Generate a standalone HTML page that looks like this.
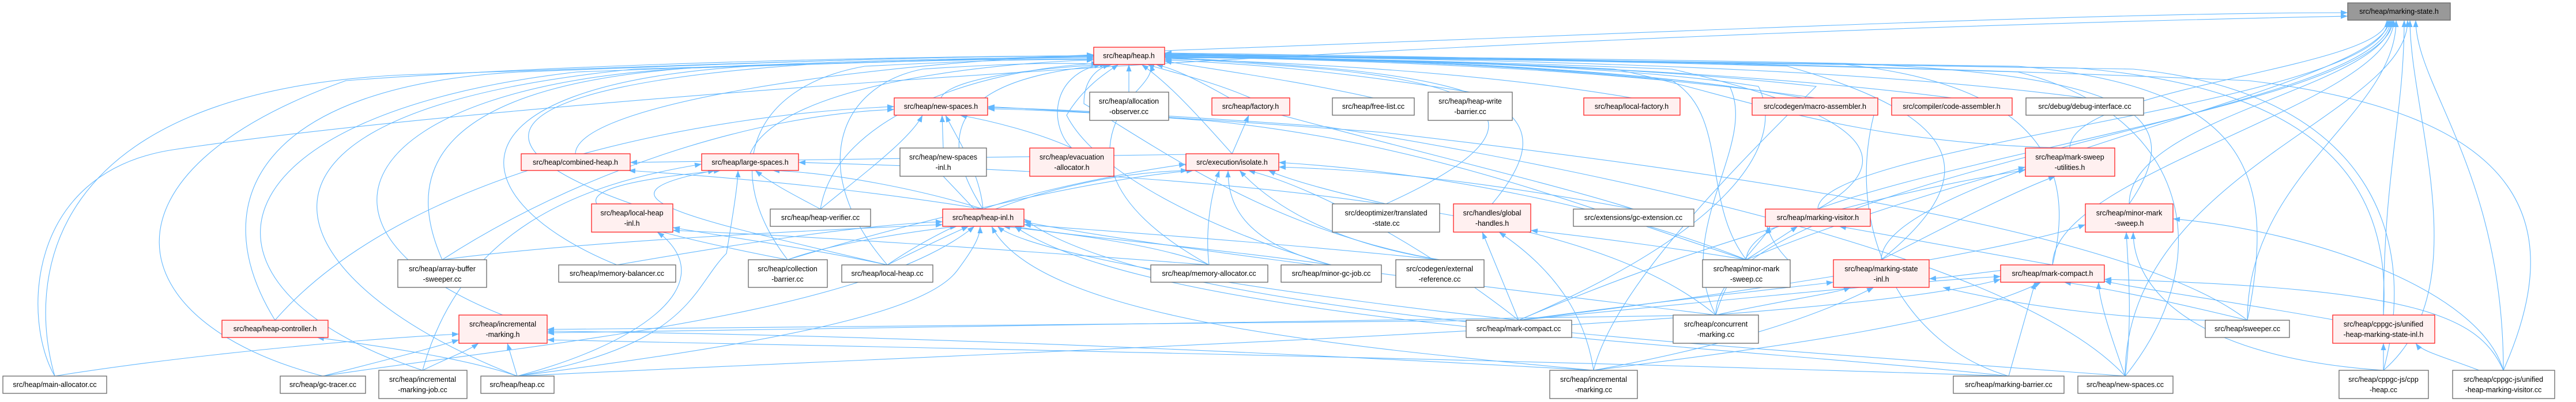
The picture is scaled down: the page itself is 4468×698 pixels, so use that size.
<!DOCTYPE html>
<html><head><meta charset="utf-8"><style>
html,body{margin:0;padding:0;background:#fff}
svg{display:block}
text{font-family:"Liberation Sans",sans-serif;font-size:12.5px;fill:#000;text-anchor:middle}
.r{fill:#fff0f0;stroke:#ff2020;stroke-width:1.3}
.g{fill:#fff;stroke:#666;stroke-width:1.3}
.e path{fill:none;stroke:#63b8ff;stroke-width:1.1}
</style></head><body>
<svg width="4468" height="698" viewBox="0 0 4468 698" xmlns="http://www.w3.org/2000/svg">
<defs><marker id="a" markerUnits="userSpaceOnUse" markerWidth="12" markerHeight="9" refX="12" refY="4.5" orient="auto"><path d="M0,0 L12,4.5 L0,9 z" fill="#63b8ff"/></marker></defs>
<g class="e" marker-end="url(#a)">
<!-- to marking-state.h -->
<path d="M2020,88 C2800,60 3600,22 4072,22" marker-end="url(#a)"/>
<path d="M95,653 C40,560 40,300 300,260 C900,170 2500,60 4072,28" marker-end="url(#a)"/>
<path d="M3590,257 C3590,150 4140,120 4140,35" marker-end="url(#a)"/>
<path d="M3693,354 C3693,200 4148,150 4148,35" marker-end="url(#a)"/>
<path d="M3560,460 C3560,300 4152,180 4152,35" marker-end="url(#a)"/>
<path d="M3263,451 C3263,300 4144,150 4144,35" marker-end="url(#a)"/>
<path d="M3898,556 C3898,300 4156,200 4156,35" marker-end="url(#a)"/>
<path d="M4134,547 C4134,300 4170,200 4170,35" marker-end="url(#a)"/>
<path d="M4134,643 C4300,500 4180,200 4180,35" marker-end="url(#a)"/>
<path d="M4342,643 C4342,300 4190,150 4190,35" marker-end="url(#a)"/>
<path d="M2976,547 C2976,300 4146,200 4146,35" marker-end="url(#a)"/>
<path d="M3029,451 C3029,300 4150,200 4150,35" marker-end="url(#a)"/>
<path d="M3686,653 C3686,300 4176,200 4176,35" marker-end="url(#a)"/>
<path d="M3153,363 C3153,250 4142,180 4142,35" marker-end="url(#a)"/>
<!-- to heap.h -->
<path d="M95,653 C50,500 60,160 700,130 C1300,110 1600,97 1897,97" marker-end="url(#a)"/>
<path d="M560,653 C200,560 150,300 600,140 C1000,110 1600,97 1897,97" marker-end="url(#a)"/>
<path d="M477,556 C350,350 450,150 900,125 C1300,110 1600,97 1897,97" marker-end="url(#a)"/>
<path d="M733,643 C300,500 350,200 1000,125 C1400,110 1600,100 1897,100" marker-end="url(#a)"/>
<path d="M897,653 C500,500 300,200 1100,120 C1500,108 1700,102 1897,102" marker-end="url(#a)"/>
<path d="M872,547 C500,400 600,150 1200,118 C1600,105 1750,100 1897,100" marker-end="url(#a)"/>
<path d="M767,451 C700,300 750,150 1200,118 C1600,105 1750,100 1897,98" marker-end="url(#a)"/>
<path d="M1070,460 C800,350 750,150 1300,115 C1600,105 1750,100 1897,98" marker-end="url(#a)"/>
<path d="M998,267 C1000,180 1500,110 1897,95" marker-end="url(#a)"/>
<path d="M1096,354 C800,250 850,150 1400,112 C1700,102 1800,98 1897,96" marker-end="url(#a)"/>
<path d="M1301,267 C1350,150 1700,110 1897,104" marker-end="url(#a)"/>
<path d="M1366,451 C1250,300 1300,150 1500,115 C1700,105 1800,102 1897,104" marker-end="url(#a)"/>
<path d="M1423,363 C1450,200 1700,120 1905,110" marker-end="url(#a)"/>
<path d="M1539,460 C1400,300 1450,150 1600,120 C1750,110 1850,108 1910,112" marker-end="url(#a)"/>
<path d="M1632,170 C1650,130 1850,115 1920,112" marker-end="url(#a)"/>
<path d="M1705,363 C1600,200 1700,130 1930,112" marker-end="url(#a)"/>
<path d="M1859,257 C1820,220 1820,130 1910,112" marker-end="url(#a)"/>
<path d="M1958,160 L1958,112" marker-end="url(#a)"/>
<path d="M2169,170 C2100,140 2030,125 1990,112" marker-end="url(#a)"/>
<path d="M2137,267 C2060,180 2020,140 1980,112" marker-end="url(#a)"/>
<path d="M2097,460 C1900,350 1900,250 1960,170 C1990,140 2000,125 1995,112" marker-end="url(#a)"/>
<path d="M2382,170 C2250,140 2100,120 2020,106" marker-end="url(#a)"/>
<path d="M2550,160 C2300,120 2150,110 2020,104" marker-end="url(#a)"/>
<path d="M2830,170 C2600,130 2300,110 2020,102" marker-end="url(#a)"/>
<path d="M2404,354 C2700,220 2600,150 2300,120 C2150,108 2080,104 2020,100" marker-end="url(#a)"/>
<path d="M2588,354 C2700,220 2650,150 2300,118 C2150,106 2080,102 2020,100" marker-end="url(#a)"/>
<path d="M3148,170 C2800,120 2400,105 2020,98" marker-end="url(#a)"/>
<path d="M3385,170 C3000,120 2500,105 2020,98" marker-end="url(#a)"/>
<path d="M3616,170 C3200,115 2600,103 2020,96" marker-end="url(#a)"/>
<path d="M3590,257 C3200,250 3000,160 2800,120 C2500,104 2200,100 2020,96" marker-end="url(#a)"/>
<path d="M3153,363 C3300,280 3250,200 2900,120 C2500,104 2200,100 2020,98" marker-end="url(#a)"/>
<path d="M3693,354 C3800,200 3700,130 3200,110 C2700,100 2300,98 2020,96" marker-end="url(#a)"/>
<path d="M3560,460 C3600,300 3550,150 3200,112 C2700,102 2300,98 2020,96" marker-end="url(#a)"/>
<path d="M3263,451 C3450,300 3400,200 3100,115 C2700,103 2300,99 2020,97" marker-end="url(#a)"/>
<path d="M3898,556 C3950,300 3900,150 3500,115 C2900,103 2300,99 2020,95" marker-end="url(#a)"/>
<path d="M4134,547 C4150,300 4000,150 3600,118 C3000,104 2400,99 2020,94" marker-end="url(#a)"/>
<path d="M4134,643 C4200,400 4100,160 3700,120 C3000,104 2400,98 2020,93" marker-end="url(#a)"/>
<path d="M4342,643 C4450,400 4400,200 3900,140 C3200,110 2500,98 2020,92" marker-end="url(#a)"/>
<path d="M3686,653 C3850,450 3800,200 3500,125 C2900,106 2400,99 2020,95" marker-end="url(#a)"/>
<path d="M2764,643 C2800,500 3000,300 3150,150 C2800,110 2300,100 2020,99" marker-end="url(#a)"/>
<path d="M2634,556 C3000,400 3100,250 3050,150 C2800,110 2300,100 2020,99" marker-end="url(#a)"/>
<path d="M2976,547 C2900,400 3050,250 3000,150 C2700,110 2300,100 2020,99" marker-end="url(#a)"/>
<path d="M3029,451 C2950,350 3000,200 2900,140 C2600,110 2300,100 2020,100" marker-end="url(#a)"/>
<path d="M3484,653 C3300,600 3200,400 3250,200 C3000,120 2400,102 2020,100" marker-end="url(#a)"/>
<path d="M2309,460 C2100,400 1900,300 1850,200 C1880,150 1920,125 1940,112" marker-end="url(#a)"/>
<path d="M2497,451 C2200,400 2000,250 1880,180 C1880,140 1900,120 1925,112" marker-end="url(#a)"/>
<path d="M2833,363 C2700,320 2400,250 2150,180 C2080,140 2040,120 2005,112" marker-end="url(#a)"/>
<!-- to new-spaces.h -->
<path d="M1636,257 L1634,200" marker-end="url(#a)"/>
<path d="M1423,363 C1500,300 1580,240 1600,200" marker-end="url(#a)"/>
<path d="M1705,363 C1700,300 1660,240 1640,200" marker-end="url(#a)"/>
<path d="M1859,257 C1800,230 1720,210 1665,200" marker-end="url(#a)"/>
<path d="M3898,556 C3700,400 3000,300 2400,230 C2000,200 1800,190 1713,185" marker-end="url(#a)"/>
<path d="M3686,653 C3500,450 2800,300 2300,220 C1950,195 1800,188 1713,187" marker-end="url(#a)"/>
<path d="M3029,451 C2800,380 2500,250 2100,210 C1900,195 1780,190 1713,189" marker-end="url(#a)"/>
<path d="M767,451 C1000,300 1300,200 1551,190" marker-end="url(#a)"/>
<path d="M477,556 C700,300 1200,200 1551,185" marker-end="url(#a)"/>
<!-- to large-spaces.h -->
<path d="M1423,363 C1380,340 1340,320 1310,296" marker-end="url(#a)"/>
<path d="M1705,363 C1600,330 1450,300 1340,296" marker-end="url(#a)"/>
<path d="M1539,460 C1200,380 1000,340 1240,296" marker-end="url(#a)"/>
<path d="M897,653 C1200,600 1200,500 1260,440 C1270,380 1280,320 1280,296" marker-end="url(#a)"/>
<path d="M2976,547 C2800,400 2400,310 1385,282" marker-end="url(#a)"/>
<path d="M733,643 C800,400 1000,320 1217,285" marker-end="url(#a)"/>
<path d="M1366,451 C1000,380 900,330 1250,296" marker-end="url(#a)"/>
<!-- to factory.h / isolate.h -->
<path d="M2137,267 L2166,200" marker-end="url(#a)"/>
<path d="M1705,363 C1800,330 1950,300 2057,285" marker-end="url(#a)"/>
<path d="M2097,460 C2090,400 2100,340 2115,296" marker-end="url(#a)"/>
<path d="M2309,460 C2150,420 2130,350 2130,296" marker-end="url(#a)"/>
<path d="M2404,354 C2300,330 2230,310 2200,296" marker-end="url(#a)"/>
<path d="M2497,451 C2300,420 2200,350 2150,296" marker-end="url(#a)"/>
<path d="M1539,460 C1700,350 1900,300 2060,296" marker-end="url(#a)"/>
<path d="M1366,451 C1600,380 1900,310 2070,296" marker-end="url(#a)"/>
<path d="M2833,363 C2600,320 2400,295 2218,290" marker-end="url(#a)"/>
<path d="M3029,451 C2800,360 2500,300 2218,282" marker-end="url(#a)"/>
<path d="M2634,556 C2500,450 2300,330 2165,296" marker-end="url(#a)"/>
<!-- to heap-inl.h -->
<path d="M1636,306 L1690,363" marker-end="url(#a)" style="marker-end:none;marker-start:url(#a)"/>
<path d="M1366,451 C1450,420 1600,400 1660,393" marker-end="url(#a)"/>
<path d="M1539,460 C1580,440 1640,410 1680,393" marker-end="url(#a)"/>
<path d="M2097,460 C2000,420 1800,400 1740,393" marker-end="url(#a)"/>
<path d="M2309,460 C2100,430 1850,410 1760,393" marker-end="url(#a)"/>
<path d="M2497,451 C2200,420 1900,400 1776,390" marker-end="url(#a)"/>
<path d="M1070,460 C1300,420 1500,390 1635,385" marker-end="url(#a)"/>
<path d="M767,451 C1000,420 1400,400 1635,390" marker-end="url(#a)"/>
<path d="M897,653 C1300,600 1600,550 1660,470 C1690,430 1700,410 1700,393" marker-end="url(#a)"/>
<path d="M2764,643 C2300,600 1800,550 1720,393" marker-end="url(#a)"/>
<path d="M2634,556 C2300,520 1800,450 1730,393" marker-end="url(#a)"/>
<path d="M560,653 C900,600 1500,550 1690,393" marker-end="url(#a)"/>
<path d="M3484,653 C3000,600 2000,560 1760,393" marker-end="url(#a)"/>
<path d="M3686,653 C3000,600 2000,550 1776,380" marker-end="url(#a)"/>
<path d="M2976,547 C2600,500 2000,430 1776,385" marker-end="url(#a)"/>
<!-- combined-heap, local-heap-inl, heap-controller -->
<path d="M1705,363 C1500,330 1300,310 1090,296" marker-end="url(#a)"/>
<path d="M2137,267 C1700,270 1300,280 1093,282" marker-end="url(#a)"/>
<path d="M897,653 C1100,600 1250,500 1150,410 L1140,403" marker-end="url(#a)"/>
<path d="M1539,460 C1400,430 1250,410 1167,395" marker-end="url(#a)"/>
<path d="M2097,460 C1700,430 1400,410 1167,400" marker-end="url(#a)"/>
<path d="M897,653 C800,620 650,600 550,586" marker-end="url(#a)"/>
<!-- incremental-marking.h -->
<path d="M897,653 L880,596" marker-end="url(#a)"/>
<path d="M733,643 C780,620 810,610 830,596" marker-end="url(#a)"/>
<path d="M560,653 C650,630 730,610 796,590" marker-end="url(#a)"/>
<path d="M95,653 C300,620 600,590 796,580" marker-end="url(#a)"/>
<path d="M2634,556 C2000,560 1400,570 949,572" marker-end="url(#a)"/>
<path d="M2764,643 C2000,600 1400,580 949,575" marker-end="url(#a)"/>
<path d="M2976,547 C2000,560 1400,575 949,578" marker-end="url(#a)"/>
<path d="M3484,653 C2500,620 1400,600 949,590" marker-end="url(#a)"/>
<!-- global-handles.h -->
<path d="M2634,556 L2571,403" marker-end="url(#a)"/>
<path d="M2764,643 C2750,550 2700,470 2600,403" marker-end="url(#a)"/>
<path d="M3029,451 C2900,430 2750,410 2655,400" marker-end="url(#a)"/>
<!-- marking-visitor.h -->
<path d="M3029,451 L3118,393" marker-end="url(#a)"/>
<path d="M2976,547 C3000,460 3060,420 3070,393" marker-end="url(#a)"/>
<path d="M3560,460 C3400,430 3280,410 3190,393" marker-end="url(#a)"/>
<path d="M3105,455 C3080,430 3070,410 3065,393" marker-end="url(#a)"/>
<!-- mark-sweep-utilities.h -->
<path d="M3263,451 C3400,380 3500,330 3565,306" marker-end="url(#a)"/>
<path d="M2634,556 C3000,400 3300,330 3513,295" marker-end="url(#a)"/>
<path d="M3029,451 C3200,380 3400,320 3513,290" marker-end="url(#a)"/>
<!-- marking-state-inl.h -->
<path d="M2634,556 C2900,520 3100,500 3180,490" marker-end="url(#a)"/>
<path d="M2976,547 C3100,520 3180,510 3210,499" marker-end="url(#a)"/>
<path d="M2764,643 C3000,600 3150,550 3250,499" marker-end="url(#a)"/>
<path d="M3898,556 C3700,560 3500,530 3370,499" marker-end="url(#a)"/>
<path d="M3560,460 C3450,470 3400,480 3346,484" marker-end="url(#a)"/>
<!-- mark-compact.h -->
<path d="M3484,653 L3530,490" marker-end="url(#a)"/>
<path d="M3898,556 C3750,520 3650,500 3580,490" marker-end="url(#a)"/>
<path d="M3686,653 C3660,580 3640,520 3640,490" marker-end="url(#a)"/>
<path d="M4046,555 C3850,520 3700,500 3650,488" marker-end="url(#a)"/>
<path d="M4342,643 C4300,550 4200,500 3650,485" marker-end="url(#a)"/>
<path d="M2764,643 C3100,600 3400,560 3540,490" marker-end="url(#a)"/>
<path d="M2634,556 C3000,520 3300,490 3470,480" marker-end="url(#a)"/>
<path d="M897,653 C2000,600 3200,560 3470,485" marker-end="url(#a)"/>
<!-- minor-mark-sweep.h -->
<path d="M3686,653 C3700,550 3690,450 3688,403" marker-end="url(#a)"/>
<path d="M4134,643 C3800,620 3700,500 3700,403" marker-end="url(#a)"/>
<path d="M4342,643 C4300,500 4000,400 3769,380" marker-end="url(#a)"/>
<path d="M2634,556 C3100,500 3500,430 3617,390" marker-end="url(#a)"/>
<!-- unified-heap-marking-state-inl.h -->
<path d="M4134,643 L4134,596" marker-end="url(#a)"/>
<path d="M4300,643 C4240,620 4200,610 4190,596" marker-end="url(#a)"/>
</g>
<!-- nodes -->
<rect x="4072" y="5" width="178" height="30" fill="#999" stroke="#666" stroke-width="1.3"/><text x="4161" y="24">src/heap/marking-state.h</text>
<rect class="r" x="1897" y="82" width="123" height="30"/><text x="1958" y="101">src/heap/heap.h</text>
<rect class="r" x="1551" y="170" width="162" height="30"/><text x="1632" y="189">src/heap/new-spaces.h</text>
<rect class="g" x="1890" y="160" width="137" height="49"/><text x="1958" y="180">src/heap/allocation</text><text x="1958" y="198">-observer.cc</text>
<rect class="r" x="2102" y="170" width="135" height="30"/><text x="2169" y="189">src/heap/factory.h</text>
<rect class="g" x="2311" y="170" width="142" height="30"/><text x="2382" y="189">src/heap/free-list.cc</text>
<rect class="g" x="2477" y="160" width="146" height="49"/><text x="2550" y="180">src/heap/heap-write</text><text x="2550" y="198">-barrier.cc</text>
<rect class="r" x="2747" y="170" width="167" height="30"/><text x="2830" y="189">src/heap/local-factory.h</text>
<rect class="r" x="3039" y="170" width="218" height="30"/><text x="3148" y="189">src/codegen/macro-assembler.h</text>
<rect class="r" x="3281" y="170" width="209" height="30"/><text x="3385" y="189">src/compiler/code-assembler.h</text>
<rect class="g" x="3514" y="170" width="204" height="30"/><text x="3616" y="189">src/debug/debug-interface.cc</text>
<rect class="r" x="1217" y="267" width="168" height="29"/><text x="1301" y="286">src/heap/large-spaces.h</text>
<rect class="r" x="904" y="267" width="189" height="29"/><text x="998" y="286">src/heap/combined-heap.h</text>
<rect class="g" x="1561" y="257" width="150" height="49"/><text x="1636" y="277">src/heap/new-spaces</text><text x="1636" y="295">-inl.h</text>
<rect class="r" x="1786" y="257" width="146" height="49"/><text x="1859" y="277">src/heap/evacuation</text><text x="1859" y="295">-allocator.h</text>
<rect class="r" x="2057" y="267" width="161" height="29"/><text x="2137" y="286">src/execution/isolate.h</text>
<rect class="r" x="3513" y="257" width="155" height="49"/><text x="3590" y="277">src/heap/mark-sweep</text><text x="3590" y="295">-utilities.h</text>
<rect class="r" x="1026" y="354" width="141" height="49"/><text x="1096" y="374">src/heap/local-heap</text><text x="1096" y="392">-inl.h</text>
<rect class="g" x="1336" y="363" width="174" height="30"/><text x="1423" y="382">src/heap/heap-verifier.cc</text>
<rect class="r" x="1635" y="363" width="141" height="30"/><text x="1705" y="382">src/heap/heap-inl.h</text>
<rect class="g" x="2311" y="354" width="186" height="49"/><text x="2404" y="374">src/deoptimizer/translated</text><text x="2404" y="392">-state.cc</text>
<rect class="r" x="2521" y="354" width="134" height="49"/><text x="2588" y="374">src/handles/global</text><text x="2588" y="392">-handles.h</text>
<rect class="g" x="2729" y="363" width="209" height="30"/><text x="2833" y="382">src/extensions/gc-extension.cc</text>
<rect class="r" x="3062" y="363" width="182" height="30"/><text x="3153" y="382">src/heap/marking-visitor.h</text>
<rect class="r" x="3617" y="354" width="152" height="49"/><text x="3693" y="374">src/heap/minor-mark</text><text x="3693" y="392">-sweep.h</text>
<rect class="g" x="690" y="451" width="154" height="48"/><text x="767" y="471">src/heap/array-buffer</text><text x="767" y="489">-sweeper.cc</text>
<rect class="g" x="969" y="460" width="203" height="30"/><text x="1070" y="479">src/heap/memory-balancer.cc</text>
<rect class="g" x="1298" y="451" width="137" height="48"/><text x="1366" y="471">src/heap/collection</text><text x="1366" y="489">-barrier.cc</text>
<rect class="g" x="1460" y="460" width="158" height="30"/><text x="1539" y="479">src/heap/local-heap.cc</text>
<rect class="g" x="1996" y="460" width="203" height="30"/><text x="2097" y="479">src/heap/memory-allocator.cc</text>
<rect class="g" x="2222" y="460" width="174" height="30"/><text x="2309" y="479">src/heap/minor-gc-job.cc</text>
<rect class="g" x="2421" y="451" width="153" height="48"/><text x="2497" y="471">src/codegen/external</text><text x="2497" y="489">-reference.cc</text>
<rect class="g" x="2953" y="451" width="152" height="48"/><text x="3029" y="471">src/heap/minor-mark</text><text x="3029" y="489">-sweep.cc</text>
<rect class="r" x="3180" y="451" width="166" height="48"/><text x="3263" y="471">src/heap/marking-state</text><text x="3263" y="489">-inl.h</text>
<rect class="r" x="3470" y="460" width="180" height="30"/><text x="3560" y="479">src/heap/mark-compact.h</text>
<rect class="r" x="385" y="556" width="184" height="30"/><text x="477" y="575">src/heap/heap-controller.h</text>
<rect class="r" x="796" y="547" width="153" height="49"/><text x="872" y="567">src/heap/incremental</text><text x="872" y="585">-marking.h</text>
<rect class="g" x="2543" y="556" width="183" height="30"/><text x="2634" y="575">src/heap/mark-compact.cc</text>
<rect class="g" x="2902" y="547" width="148" height="49"/><text x="2976" y="567">src/heap/concurrent</text><text x="2976" y="585">-marking.cc</text>
<rect class="g" x="3825" y="556" width="146" height="30"/><text x="3898" y="575">src/heap/sweeper.cc</text>
<rect class="r" x="4046" y="547" width="177" height="49"/><text x="4134" y="567">src/heap/cppgc-js/unified</text><text x="4134" y="585">-heap-marking-state-inl.h</text>
<rect class="g" x="5" y="653" width="180" height="30"/><text x="95" y="672">src/heap/main-allocator.cc</text>
<rect class="g" x="486" y="653" width="148" height="30"/><text x="560" y="672">src/heap/gc-tracer.cc</text>
<rect class="g" x="657" y="643" width="153" height="49"/><text x="733" y="663">src/heap/incremental</text><text x="733" y="681">-marking-job.cc</text>
<rect class="g" x="834" y="653" width="127" height="30"/><text x="897" y="672">src/heap/heap.cc</text>
<rect class="g" x="2688" y="643" width="152" height="49"/><text x="2764" y="663">src/heap/incremental</text><text x="2764" y="681">-marking.cc</text>
<rect class="g" x="3388" y="653" width="192" height="30"/><text x="3484" y="672">src/heap/marking-barrier.cc</text>
<rect class="g" x="3604" y="653" width="165" height="30"/><text x="3686" y="672">src/heap/new-spaces.cc</text>
<rect class="g" x="4057" y="643" width="155" height="49"/><text x="4134" y="663">src/heap/cppgc-js/cpp</text><text x="4134" y="681">-heap.cc</text>
<rect class="g" x="4254" y="643" width="177" height="49"/><text x="4342" y="663">src/heap/cppgc-js/unified</text><text x="4342" y="681">-heap-marking-visitor.cc</text>
</svg>
</body></html>
